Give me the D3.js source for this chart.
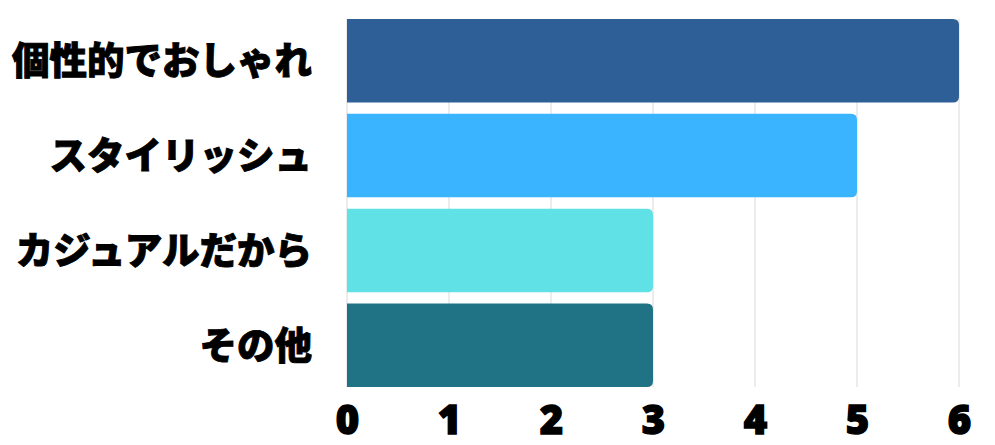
<!DOCTYPE html>
<html>
<head>
<meta charset="utf-8">
<script src="https://cdn.jsdelivr.net/npm/d3@7"></script>
<style>
  body { margin: 0; background: #fff; }
  svg { display: block; }
  .cat { font-family: "Noto Sans CJK JP", sans-serif; font-weight: 900; font-size: 37.5px; fill: #000; stroke: #000; stroke-width: 0.9px; }
  .tick-label { font-family: "Noto Sans", "DejaVu Sans", sans-serif; font-weight: 900; font-size: 40px; fill: #000; stroke: #000; stroke-width: 1.4px; }
</style>
</head>
<body>
<svg id="chart" width="995" height="445"></svg>
<script>
const categories = ['個性的でおしゃれ', 'スタイリッシュ', 'カジュアルだから', 'その他'];
const values = [6, 5, 3, 3];
const barColors = ['#2e6097', '#3bb4ff', '#5fe1e6', '#1f7385'];
const tickValues = [0, 1, 2, 3, 4, 5, 6];

const svg = d3.select('#chart');
const margin = {top: 19, right: 36, bottom: 58, left: 347};
const width = 995 - margin.left - margin.right;
const height = 445 - margin.top - margin.bottom;

const x = d3.scaleLinear().domain([0, 6]).range([0, width]);
const y = d3.scaleBand().domain(categories).range([0, height]).paddingInner(0.12).paddingOuter(0);

const g = svg.append('g').attr('transform', `translate(${margin.left},${margin.top})`);

// grid
g.selectAll('line.grid')
    .data(tickValues)
    .enter().append('line')
    .attr('class', 'grid')
    .attr('x1', d => x(d)).attr('x2', d => x(d))
    .attr('y1', 0).attr('y2', height)
    .attr('stroke', '#d9d9d9')
    .attr('stroke-width', 1);

// bars, right corners rounded
const r = 6;
g.selectAll('path.bar')
    .data(categories)
    .enter().append('path')
    .attr('class', 'bar')
    .attr('fill', (d, i) => barColors[i])
    .attr('d', (d, i) => {
      const x0 = x(0), x1 = x(values[i]);
      const y0 = y(d), y1 = y(d) + y.bandwidth();
      return `M${x0},${y0}H${x1 - r}Q${x1},${y0} ${x1},${y0 + r}V${y1 - r}Q${x1},${y1} ${x1 - r},${y1}H${x0}Z`;
    });

// category labels
g.selectAll('text.cat')
    .data(categories)
    .enter().append('text')
    .attr('class', 'cat')
    .attr('x', -35)
    .attr('y', d => y(d) + y.bandwidth() / 2)
    .attr('dy', '0.36em')
    .attr('text-anchor', 'end')
    .text(d => d);

// x tick labels
const xAxis = d3.axisBottom(x).tickValues(tickValues).tickFormat(d3.format('d')).tickSize(0).tickPadding(0);
const ax = g.append('g').attr('transform', `translate(0,${height})`).call(xAxis);
ax.select('.domain').remove();
ax.selectAll('text')
    .attr('class', 'tick-label')
    .attr('fill', null)
    .attr('font-size', null)
    .attr('font-family', null)
    .attr('y', 47)
    .attr('dy', 0);
</script>
</body>
</html>
